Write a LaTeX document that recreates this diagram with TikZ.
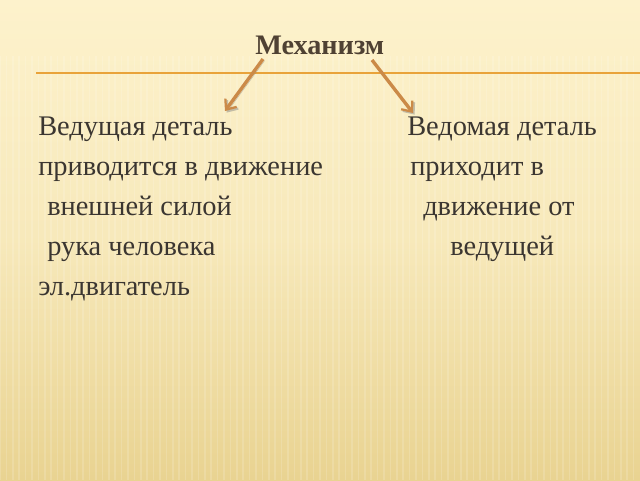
\documentclass[tikz,border=0pt]{standalone}
\usepackage{fontspec}
\setmainfont{Liberation Serif}
\usetikzlibrary{arrows.meta}

\definecolor{paper}{HTML}{FDF2CC}
\definecolor{paperlow}{HTML}{E9D391}
\definecolor{rule}{HTML}{E9A33A}
\definecolor{ink}{HTML}{3B3631}
\definecolor{arrowbrown}{HTML}{CB8A48}

\tikzset{
    line/.style={anchor=base west, inner sep=0pt, text=ink, font=\fontsize{20.2}{24}\selectfont},
    pointer/.style={arrowbrown, line width=2.4pt, -{Straight Barb[length=6pt, width=10pt, line width=1.6pt]},
        preaction={draw=gray, opacity=.45, transform canvas={shift={(.04,-.04)}}}}
}

\begin{document}
\begin{tikzpicture}
        \useasboundingbox (0, 0) rectangle (16, 12);
        \shade[top color=paper, bottom color=paperlow, middle color=paper!70!paperlow] (0, 0) rectangle (16, 12);
        \foreach \x in {0, 0.16, ..., 16}
            \draw[white, opacity=.15, line width=1.2pt] (\x, 10.6) -- (\x, 0);

        \node[anchor=base west, inner sep=0pt, text=ink!85!brown, font=\bfseries\fontsize{20.1}{24}\selectfont] (mech) at (6.375, 10.625) {Механизм};
        \draw[rule, line width=1.4pt] (0.9, 10.175) -- (16, 10.175);

        \coordinate (leadFrom) at (6.575, 10.525);
        \coordinate (leadTo) at (5.625, 9.225);
        \coordinate (drivenFrom) at (9.3, 10.5);
        \coordinate (drivenTo) at (10.325, 9.175);
        \draw[pointer] (leadFrom) -- (leadTo);
        \draw[pointer] (drivenFrom) -- (drivenTo);

        \node[line] (lead1) at (0.95, 8.625) {Ведущая деталь};
        \node[line] (lead2) at (0.95, 7.625) {приводится в движение};
        \node[line] (lead3) at (1.175, 6.625) {внешней силой};
        \node[line] (lead4) at (1.175, 5.625) {рука человека};
        \node[line] (lead5) at (0.95, 4.625) {эл.двигатель};

        \node[line] (driven1) at (10.175, 8.625) {Ведомая деталь};
        \node[line] (driven2) at (10.25, 7.625) {приходит в};
        \node[line] (driven3) at (10.575, 6.625) {движение от};
        \node[line] (driven4) at (11.25, 5.625) {ведущей};

    \end{tikzpicture}
\end{document}
